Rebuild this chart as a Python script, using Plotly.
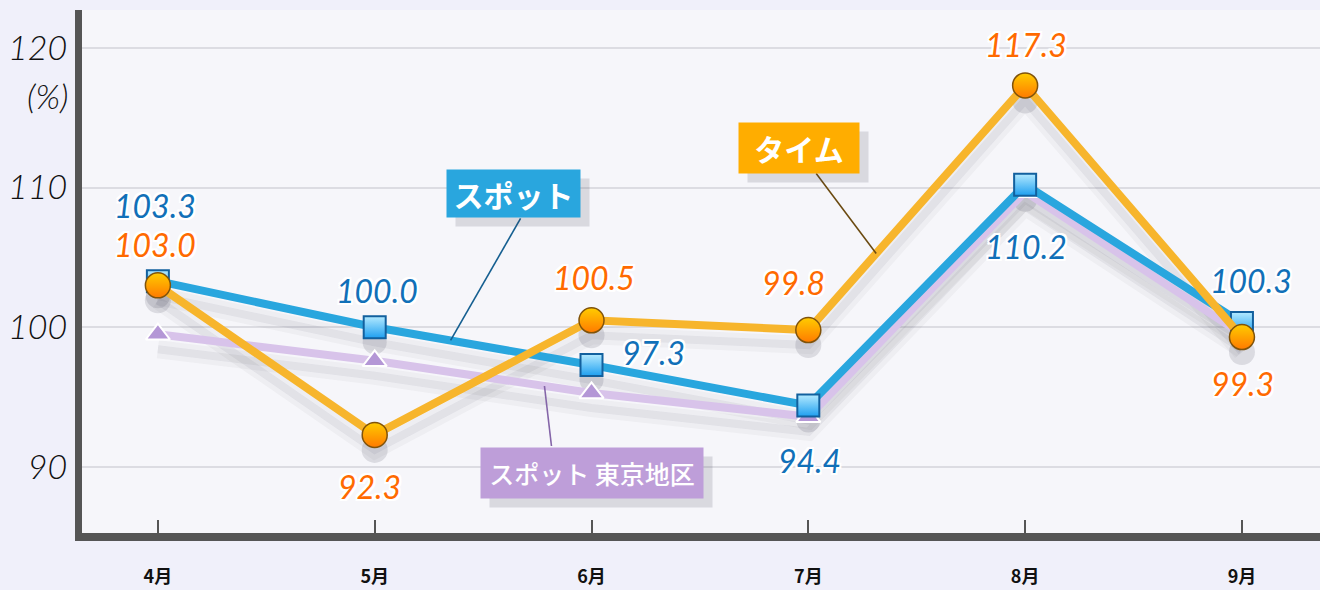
import plotly.graph_objects as go

# ---------------- data ----------------
months = ["4月", "5月", "6月", "7月", "8月", "9月"]
time_vals = [103.0, 92.3, 100.5, 99.8, 117.3, 99.3]       # タイム
spot_vals = [103.3, 100.0, 97.3, 94.4, 110.2, 100.3]      # スポット
tokyo_vals = [99.5, 97.6, 95.3, 93.6, 109.7, 99.5]        # スポット 東京地区
y_tick_vals = [90, 100, 110, 120]
y_tick_text = ["90", "100", "110", "120"]

# ---------------- style ----------------
W, H = 1320, 590
M_L, M_R, M_T, M_B = 82, 0, 10, 57
Y_RANGE = [85.28, 122.7]
X_RANGE = [-0.35, 5.36]
PX_PER_UNIT = (H - M_T - M_B) / (Y_RANGE[1] - Y_RANGE[0])

BLUE_LINE = "#29a6de"
ORANGE_LINE = "#f7b52c"
PURPLE_LINE = "#d8c3ea"
BLUE_TEXT = "#1170b8"
ORANGE_TEXT = "#ff6a00"

x = list(range(len(months)))

# label offsets (xshift, yshift) in px
spot_label_shift = [(-3, 76), (2, 37), (62, 13), (1, -55), (1, -62), (9, 43)]
time_label_shift = [(-3, 41), (-5, -52), (2, 43), (-15, 48), (1, 41), (1, -46)]

fig = go.Figure()

shadow_off = 15 / PX_PER_UNIT
for vals, msym, msize in [(tokyo_vals, None, 0), (spot_vals, "square", 24), (time_vals, "circle", 26)]:
    sv = [v - shadow_off for v in vals]
    fig.add_trace(go.Scatter(x=x, y=sv, mode="lines", hoverinfo="skip",
                             line=dict(color="rgba(40,40,60,0.04)", width=18), showlegend=False))
    fig.add_trace(go.Scatter(x=x, y=sv, mode="lines", hoverinfo="skip",
                             line=dict(color="rgba(40,40,60,0.06)", width=8), showlegend=False))
    if msym:
        fig.add_trace(go.Scatter(x=x, y=sv, mode="markers", hoverinfo="skip",
                                 marker=dict(symbol="circle", size=msize, color="rgba(40,40,60,0.13)"),
                                 showlegend=False))

# purple (東京地区)
fig.add_trace(go.Scatter(
    x=x, y=tokyo_vals, mode="lines+markers", name="スポット 東京地区",
    line=dict(color=PURPLE_LINE, width=8),
    marker=dict(symbol="triangle-up", size=21, color="#b497d6", line=dict(color="white", width=2)),
    showlegend=False))
# blue (スポット)
fig.add_trace(go.Scatter(
    x=x, y=spot_vals, mode="lines+markers", name="スポット",
    line=dict(color=BLUE_LINE, width=8),
    marker=dict(symbol="square", size=22, color="#b4eaff",
                gradient=dict(type="vertical", color="#1e9ff0"),
                line=dict(color="#12609e", width=2)),
    showlegend=False))
# orange (タイム)
fig.add_trace(go.Scatter(
    x=x, y=time_vals, mode="lines+markers", name="タイム",
    line=dict(color=ORANGE_LINE, width=8),
    marker=dict(symbol="circle", size=25, color="#ffcc00",
                gradient=dict(type="vertical", color="#ff7a00"),
                line=dict(color="#80530a", width=1.5)),
    showlegend=False))

halo = "2px 2px 0 #fff, -2px -2px 0 #fff, 2px -2px 0 #fff, -2px 2px 0 #fff, 0 2px 0 #fff, 0 -2px 0 #fff, 2px 0 0 #fff, -2px 0 0 #fff"
annotations = []
for i, v in enumerate(spot_vals):
    xs, ys = spot_label_shift[i]
    annotations.append(dict(x=i, y=v, text=f"{v:.1f}", showarrow=False, xshift=xs, yshift=ys,
                            font=dict(family="Lato", size=32, color=BLUE_TEXT, style="italic", shadow=halo)))
for i, v in enumerate(time_vals):
    xs, ys = time_label_shift[i]
    annotations.append(dict(x=i, y=v, text=f"{v:.1f}", showarrow=False, xshift=xs, yshift=ys,
                            font=dict(family="Lato", size=32, color=ORANGE_TEXT, style="italic", shadow=halo)))

# "(%)" unit label
annotations.append(dict(xref="paper", x=(70 - M_L) / (W - M_L - M_R), xanchor="right",
                        y=116.6, yref="y", text="(%)", showarrow=False,
                        font=dict(family="Lato", size=34, color="#111", style="italic", weight=300)))


def interp(vals, t):
    i = int(t)
    f = t - i
    return vals[i] + (vals[i + 1] - vals[i]) * f


callouts = [
    # text, values, t, line(dx,dy), box shift(dx,dy), box color, line color, w, h, font size, weight
    ("スポット", spot_vals, 1.35, (70, 122), (63, 147), "#29a6de", "#155f90", 127, 41, 30, 700),
    ("タイム", time_vals, 3.313, (-60, 80), (-77, 106), "#ffad00", "#6b4a10", 114, 44, 30, 700),
    ("スポット 東京地区", tokyo_vals, 1.783, (7, -60), (48, -87), "#be9ed9", "#8465a8", 216, 44, 25, 500),
]
shapes = []
for text, vals, t, (ldx, ldy), (bdx, bdy), bc, lc, bw, bh, fs, fw in callouts:
    ty = interp(vals, t)
    shapes.append(dict(type="line", xref="x", yref="y", xsizemode="pixel", ysizemode="pixel",
                       xanchor=t, yanchor=ty, x0=0, y0=0, x1=ldx, y1=ldy,
                       line=dict(color=lc, width=1.6), layer="above"))
    # box shadow
    annotations.append(dict(x=t, y=ty, xshift=bdx + 9, yshift=bdy - 9, text=" ", showarrow=False,
                            width=bw, height=bh, borderpad=3, bgcolor="rgba(70,70,90,0.16)"))
    annotations.append(dict(x=t, y=ty, xshift=bdx, yshift=bdy, text=text, showarrow=False,
                            width=bw, height=bh, borderpad=3, bgcolor=bc,
                            font=dict(family="Noto Sans CJK JP", size=fs, color="white", weight=fw)))

fig.update_layout(
    width=W, height=H,
    margin=dict(l=M_L, r=M_R, t=M_T, b=M_B, autoexpand=False),
    paper_bgcolor="#f0f0fa",
    plot_bgcolor="#f6f6fa",
    annotations=annotations,
    shapes=shapes,
    xaxis=dict(range=X_RANGE, tickmode="array", tickvals=x, ticktext=months,
               automargin=False,
               showgrid=False, zeroline=False,
               showline=True, linecolor="#555555", linewidth=8,
               ticks="inside", ticklen=13, tickwidth=2, tickcolor="#555555",
               ticklabelstandoff=20,
               tickfont=dict(family="Noto Sans CJK JP", size=18, color="#111", weight=700)),
    yaxis=dict(range=Y_RANGE, tickmode="array", tickvals=y_tick_vals, ticktext=y_tick_text,
               automargin=False,
               showgrid=True, gridcolor="#dcdce2", gridwidth=2, zeroline=False,
               showline=True, linecolor="#555555", linewidth=7,
               ticks="", ticklabelstandoff=1,
               tickfont=dict(family="Lato", size=34, color="#111", style="italic", weight=300)),
)

fig.write_html("out.html", config={"displayModeBar": False},
               post_script="document.body.style.margin='0';document.body.style.background='#f0f0fa';")
